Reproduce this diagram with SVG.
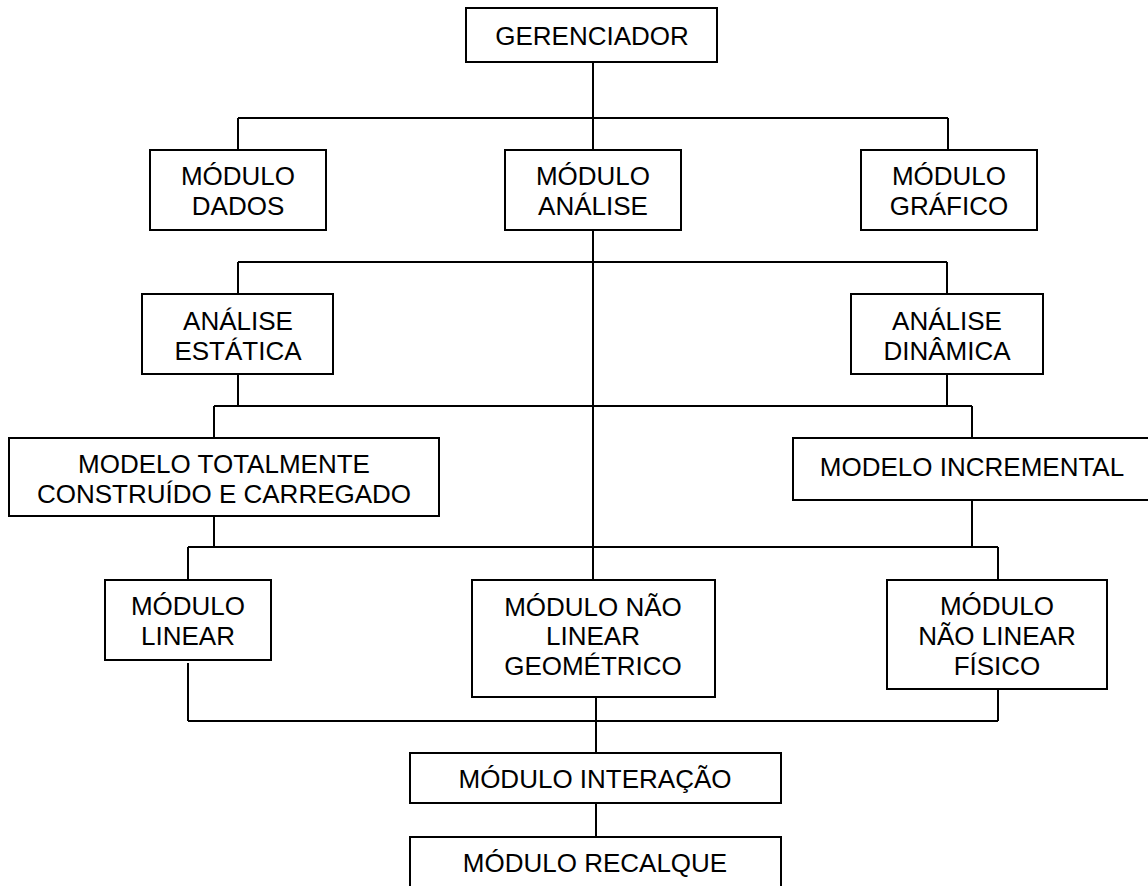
<svg xmlns="http://www.w3.org/2000/svg" width="1148" height="886" viewBox="0 0 1148 886">
<style>
.box{fill:#fff;stroke:#000;stroke-width:2}
.t{font-family:"Liberation Sans",Arial,sans-serif;font-size:26px;fill:#000;text-anchor:middle}
.c{fill:none;stroke:#000;stroke-width:2}
</style>
<rect width="1148" height="886" fill="#fff"/>
<g id="connectors" class="c">
<path d="M593,62V118M238,118H948M238,118V150M948,118V150M593,118V150"/>
<path d="M593,230V580"/>
<path d="M238,262H947M238,262V294M947,262V294"/>
<path d="M238,374V406M947,374V406M214,406H972M214,406V438M972,406V438"/>
<path d="M214,516V547M972,500V547M188,547H998M188,547V580M998,547V580"/>
<path d="M188,663V721M998,689V721M188,721H998M596,697V753"/>
<path d="M596,803V837"/>
</g>
<g id="gerenciador"><rect class="box" x="466" y="8" width="251" height="54"/><text class="t" x="592" y="45">GERENCIADOR</text></g>
<g id="modulo-dados"><rect class="box" x="150" y="150" width="176" height="80"/><text class="t" x="238" y="185">MÓDULO</text><text class="t" x="238" y="215">DADOS</text></g>
<g id="modulo-analise"><rect class="box" x="505" y="150" width="176" height="80"/><text class="t" x="593" y="185">MÓDULO</text><text class="t" x="593" y="215">ANÁLISE</text></g>
<g id="modulo-grafico"><rect class="box" x="861" y="150" width="176" height="80"/><text class="t" x="949" y="185">MÓDULO</text><text class="t" x="949" y="215">GRÁFICO</text></g>
<g id="analise-estatica"><rect class="box" x="142" y="294" width="191" height="80"/><text class="t" x="238" y="330">ANÁLISE</text><text class="t" x="238" y="360">ESTÁTICA</text></g>
<g id="analise-dinamica"><rect class="box" x="851" y="294" width="192" height="80"/><text class="t" x="947" y="330">ANÁLISE</text><text class="t" x="947" y="360">DINÂMICA</text></g>
<g id="modelo-totalmente"><rect class="box" x="9" y="438" width="430" height="78"/><text class="t" x="224" y="473">MODELO TOTALMENTE</text><text class="t" x="224" y="503">CONSTRUÍDO E CARREGADO</text></g>
<g id="modelo-incremental"><rect class="box" x="793" y="438" width="360" height="62"/><text class="t" x="972" y="476">MODELO INCREMENTAL</text></g>
<g id="modulo-linear"><rect class="box" x="105" y="580" width="166" height="80"/><text class="t" x="188" y="615">MÓDULO</text><text class="t" x="188" y="645">LINEAR</text></g>
<g id="modulo-nao-linear-geometrico"><rect class="box" x="472" y="580" width="243" height="117"/><text class="t" x="593" y="616">MÓDULO NÃO</text><text class="t" x="593" y="645">LINEAR</text><text class="t" x="593" y="675">GEOMÉTRICO</text></g>
<g id="modulo-nao-linear-fisico"><rect class="box" x="887" y="580" width="220" height="109"/><text class="t" x="997" y="615">MÓDULO</text><text class="t" x="997" y="645">NÃO LINEAR</text><text class="t" x="997" y="675">FÍSICO</text></g>
<g id="modulo-interacao"><rect class="box" x="410" y="753" width="371" height="50"/><text class="t" x="595" y="788">MÓDULO INTERAÇÃO</text></g>
<g id="modulo-recalque"><rect class="box" x="410" y="837" width="371" height="60"/><text class="t" x="595" y="872">MÓDULO RECALQUE</text></g>
</svg>
